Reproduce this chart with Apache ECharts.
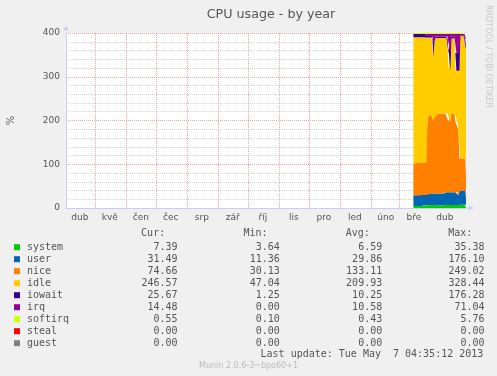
<!DOCTYPE html>
<html><head><meta charset="utf-8">
<script src="https://cdn.jsdelivr.net/npm/echarts@6/dist/echarts.min.js"></script>
<style>html,body{margin:0;padding:0;background:#f0f0f0;}#c{width:497px;height:376px;}</style>
</head><body><div id="c"></div>
<script>
// ---- data ----
const seriesNames = ['system','user','nice','idle','iowait','irq','softirq','steal','guest'];
const seriesColors = ['#00cc00','#0066b3','#ff8000','#ffcc00','#330099','#990099','#ccff00','#ff0000','#808080'];
const monthNames = ['led','úno','bře','dub','kvě','čen','čec','srp','zář','říj','lis','pro'];
const titleText = 'CPU usage - by year';
// daily samples, first one on 2013-03-15
const firstSample = Date.UTC(2013, 2, 15, 14, 0);
const system = [4.4,4.6,4.5,4.3,4.5,4.6,4.4,4.5,4.7,4.5,
  4.6,6.3,6.5,6.6,6.8,6.5,6.4,6.6,6.7,6.5,
  6.9,6.6,6.5,6.5,6.5,6.5,6.5,6.5,6.5,6.5,
  6.5,6.6,6.6,6.6,6.6,6.8,6.8,6.8,6.6,6.6,
  6.6,6.6,7.1,7.1,7.1,6.9,7.2,7.2,7.2,7.2,
  7.2,7.4,7.3,7.4];
const user = [24.6,24.4,24.5,24.7,24.5,24.4,24.6,24.5,25.3,25.5,
  25.4,23.7,23.5,23.4,23.2,26.5,26.6,26.4,26.3,26.5,
  26.1,26.4,26.5,26.5,26.5,26.5,26.5,26.5,26.5,26.5,
  26.5,29.4,29.4,29.4,29.4,29.2,29.2,29.2,29.4,29.4,
  29.4,29.4,28.9,28.9,28.9,22.1,32.8,32.8,32.8,32.8,
  32.8,32.6,32.7,31.5];
const nice = [71,71,75,75,75,75,75,75,74,74,
  74,74,74,74,164,179,179,179,179,172,
  167,177,177,183,183,183,183,183,183,183,
  183,180,180,180,180,161,161,161,180,180,
  180,180,161,161,161,149,73,73,73,73,
  73,73,73,74.1];
const idle = [290.5,290.5,286.5,286.5,286.5,286.5,286.5,286.5,286.5,286.5,
  286.5,286.5,286.5,285.5,195.5,177.5,177.5,177.5,177.5,184.5,
  143.5,168.5,178.5,172.5,172.5,172.5,172.5,172.5,172.5,172.5,
  172.5,172.5,172.5,172.5,172.5,117.5,117.5,117.5,171.5,171.5,
  171.5,171.5,116.5,116.5,116.5,135.5,200.5,280.5,280.5,280.5,
  280.5,270.5,255.5,245.5];
const iowait = [7.5,7.4,7.5,7.6,7.5,7.4,7.5,7.5,7.5,7.5,
  7.5,7.5,7.5,3.5,3.5,3.5,3.5,3.5,3.5,3.5,
  35,12,3.5,3.5,3.5,3.5,3.5,3.5,3.5,3.5,
  3.5,3.5,3.5,3.5,3.5,41,41,41,4,4,
  4,4,41,41,41,41,41,2,2,2,
  2,6,14,25.5];
const irq = [0,0,0,0,0,0,0,0,0,0,
  0,0,0,5,5,5,5,5,5,5,
  19.5,7.5,6,6,6,6,6,6,6,6,
  6,6,6,6,6,42.5,42.5,42.5,6.5,6.5,
  6.5,6.5,43.5,43.5,43.5,43.5,43.5,2.5,2.5,2.5,
  2.5,8.5,15.5,14];
const softirq = [2,2,2,2,2,2,2,2,2,2,
  2,2,2,2,2,2,2,2,2,2,
  2,2,2,2,2,2,2,2,2,2,
  2,2,2,2,2,2,2,2,2,2,
  2,2,2,2,2,2,2,2,2,2,
  2,2,2,2];
const steal = [0,0,0,0,0,0,0,0,0,0,0,0,0,0,0,0,0,0,0,0,0,0,0,0,0,0,0,0,0,0,0,0,0,0,0,0,0,0,0,0,0,0,0,0,0,0,0,0,0,0,0,0,0,0];
const guest = [0,0,0,0,0,0,0,0,0,0,0,0,0,0,0,0,0,0,0,0,0,0,0,0,0,0,0,0,0,0,0,0,0,0,0,0,0,0,0,0,0,0,0,0,0,0,0,0,0,0,0,0,0,0];
const curVals = ['7.39','31.49','74.66','246.57','25.67','14.48','0.55','0.00','0.00'];
const minVals = ['3.64','11.36','30.13','47.04','1.25','0.00','0.10','0.00','0.00'];
const avgVals = ['6.59','29.86','133.11','209.93','10.25','10.58','0.43','0.00','0.00'];
const maxVals = ['35.38','176.10','249.02','328.44','176.28','71.04','5.76','0.00','0.00'];
const lastUpdate = 'Last update: Tue May  7 04:35:12 2013';
const versionText = 'Munin 2.0.6-3~bpo60+1';
const rrdText = 'RRDTOOL / TOBI OETIKER';

// ---- chart ----
const DAY = 86400000;
const tEnd = Date.UTC(2013, 4, 7, 4, 35);
const tStart = tEnd - 400 * DAY;
const toDays = t => (t - tStart) / DAY;
const seriesData = [system, user, nice, idle, iowait, irq, softirq, steal, guest];
// month label (mid-month) and month-boundary grid positions, in days since window start
const labelValues = [], tickValues = [];
for (let k = 0; k < 13; k++) {
  labelValues.push(toDays(Date.UTC(2012, 3 + k, 16)));
  tickValues.push(toDays(Date.UTC(2012, 4 + k, 1)));
}
const mono = '"DejaVu Sans Mono", monospace';
const sans = '"DejaVu Sans", sans-serif';
const header = ' '.repeat(19) + 'Cur:' + ' '.repeat(13) + 'Min:' + ' '.repeat(13) + 'Avg:' + ' '.repeat(13) + 'Max:';
const axisColor = '#c9cdf3';
const majorGrid = '#eba5a5';

const chart = echarts.init(document.getElementById('c'), null, {renderer: 'canvas'});
chart.setOption({
  animation: false,
  backgroundColor: '#f0f0f0',
  title: {
    text: titleText, left: 266, top: 3, textAlign: 'center',
    textStyle: {fontFamily: sans, fontSize: 12.7, fontWeight: 'normal', color: '#555'}
  },
  grid: {left: 66, top: 33, width: 400, height: 175, show: true, backgroundColor: '#ffffff', borderWidth: 0,
    containLabel: false, outerBoundsMode: 'none'},
  xAxis: [{
    type: 'time', min: tStart, max: tEnd,
    axisLine: {show: true, lineStyle: {color: axisColor}, symbol: ['none', 'triangle'], symbolSize: [5, 5], symbolOffset: [0, 5]},
    axisTick: {show: false}, axisLabel: {show: false}, splitLine: {show: false}
  }, {
    type: 'value', min: 0, max: 400, position: 'bottom',
    axisLine: {show: false},
    axisTick: {show: false, customValues: tickValues},
    axisLabel: {
      customValues: labelValues, color: '#555', fontFamily: sans, fontSize: 9, margin: 5,
      formatter: v => monthNames[new Date(tStart + v * DAY).getUTCMonth()]
    },
    splitLine: {show: true, lineStyle: {color: majorGrid, type: [1, 1]}}
  }],
  yAxis: {
    type: 'value', min: 0, max: 400, interval: 100,
    name: '%', nameLocation: 'middle', nameRotate: 90, nameGap: 50,
    nameTextStyle: {fontFamily: sans, fontSize: 10, color: '#555'},
    axisLine: {show: true, lineStyle: {color: axisColor}, symbol: ['none', 'triangle'], symbolSize: [5, 5], symbolOffset: [0, 5]},
    axisTick: {show: false},
    axisLabel: {color: '#555', fontFamily: sans, fontSize: 9, margin: 6},
    splitLine: {show: true, lineStyle: {color: majorGrid, type: [1, 1]}},
    minorTick: {show: false, splitNumber: 5},
    minorSplitLine: {show: true, lineStyle: {color: '#d2d2d2', type: [1, 1]}}
  },
  legend: {
    orient: 'vertical', left: 14, top: 241.2, padding: 0, itemGap: 0,
    itemWidth: 6, itemHeight: 6, icon: 'rect', selectedMode: false,
    data: seriesNames,
    textStyle: {fontFamily: mono, fontSize: 10, color: '#555', lineHeight: 12, padding: [0, 0, 0, 2]},
    formatter: name => {
      const k = seriesNames.indexOf(name);
      return name.padEnd(25 - curVals[k].length) + curVals[k] + minVals[k].padStart(17) + avgVals[k].padStart(17) + maxVals[k].padStart(17);
    }
  },
  graphic: [
    {type: 'text', x: 26.7, y: 233.8, style: {text: header, font: '10px ' + mono, fill: '#555', verticalAlign: 'middle'}},
    {type: 'text', x: 483.3, y: 354, style: {text: lastUpdate, font: '10px ' + mono, fill: '#555', align: 'right', verticalAlign: 'middle'}},
    {type: 'text', x: 248.5, y: 365.5, style: {text: versionText, font: '8px ' + sans, fill: '#bbbbbb', align: 'center', verticalAlign: 'middle'}},
    {type: 'text', x: 488, y: 56.5, rotation: -Math.PI / 2, style: {text: rrdText, font: '8px ' + sans, fill: '#c8c8c8', align: 'center', verticalAlign: 'middle'}}
  ],
  series: seriesNames.map((n, k) => ({
    name: n, type: 'line', stack: 'cpu', silent: true, xAxisIndex: 0,
    symbol: 'none', showSymbol: false,
    lineStyle: {width: 0}, itemStyle: {color: seriesColors[k]},
    areaStyle: {color: seriesColors[k], opacity: 1},
    data: seriesData[k].map((v, i) => [firstSample + i * DAY, v])
  }))
});
</script></body></html>
